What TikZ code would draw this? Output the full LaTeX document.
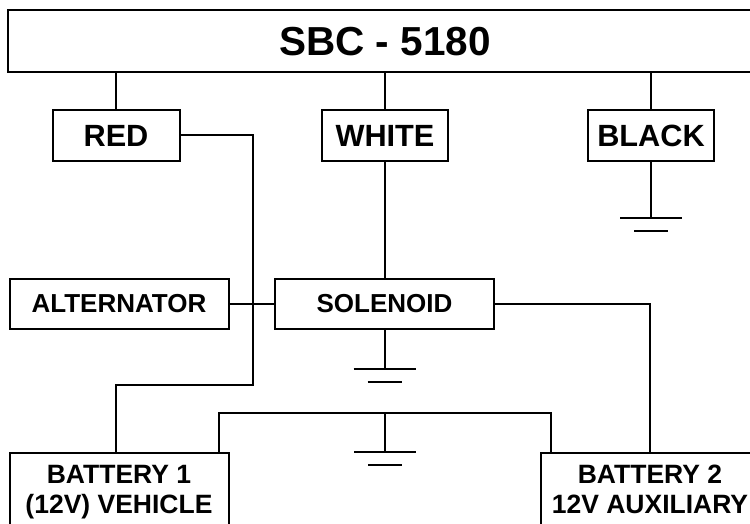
\documentclass[tikz,border=0pt]{standalone}
\usepackage{fontspec}
\setmainfont{Liberation Sans}
\usetikzlibrary{positioning}

\begin{document}
\begin{tikzpicture}[x=1pt,y=-1pt,line width=2pt,
        box/.style={draw,rectangle,minimum height=51pt,inner sep=0pt,
            font=\bfseries\fontsize{30.7}{36}\selectfont},
        widebox/.style={draw,rectangle,minimum width=219pt,minimum height=50pt,inner sep=0pt,
            font=\bfseries\fontsize{26}{30}\selectfont},
        batbox/.style={widebox,minimum height=79pt,align=center,
            font=\bfseries\fontsize{26.5}{30}\selectfont},
        gnd/.pic={\draw (-31,0) -- (31,0) (-17,12.6) -- (17,12.6);}]
    \useasboundingbox (0,0) rectangle (750,524);
    \clip (0,0) rectangle (750,524);

    \node (sbc) [draw,rectangle,minimum width=754pt,minimum height=62pt,inner sep=0pt,
        font=\bfseries\fontsize{40.5}{48}\selectfont] at (385,41.3) {SBC - 5180};

    \node (red) [box,minimum width=127pt] at (116,135.5) {RED};
    \node (white) [box,minimum width=126.5pt] at (385,135.5) {WHITE};
    \node (black) [box,minimum width=126pt] at (651,135.5) {BLACK};

    \node (alt) [widebox] at (119,304) {ALTERNATOR};
    \node (sol) [widebox] at (384.5,304) {SOLENOID};

    \node (bat1) [batbox] at (119,492.5) {\strut BATTERY 1 \\ \strut (12V) VEHICLE};
    \node (bat2) [batbox] at (650,492.5) {\strut BATTERY 2 \\ \strut 12V AUXILIARY};

    % grounds and bends
    \coordinate [below=56pt of black] (gblack);
    \coordinate [below=39pt of sol] (gsol);
    \coordinate (redturn) at (252.6,385);
    \coordinate (tie) at (385,413);
    \coordinate (gtie) at (385,452);

    \draw (red.north) -- (red.north |- sbc.south);
    \draw (white.north) -- (white.north |- sbc.south);
    \draw (black.north) -- (black.north |- sbc.south);

    \draw (white.south) -- (white.south |- sol.north);
    \draw (alt.east) -- (sol.west);
    \draw (red.east) -| (redturn) -| ([xshift=-3pt]bat1.north);
    \draw (sol.east) -| (bat2.north);
    \draw ([xshift=-11pt]bat1.north east) |- (tie) -| ([xshift=11pt]bat2.north west);

    \draw (black.south) -- (gblack) pic {gnd};
    \draw (sol.south) -- (gsol) pic {gnd};
    \draw (tie) -- (gtie) pic {gnd};
\end{tikzpicture}
\end{document}
